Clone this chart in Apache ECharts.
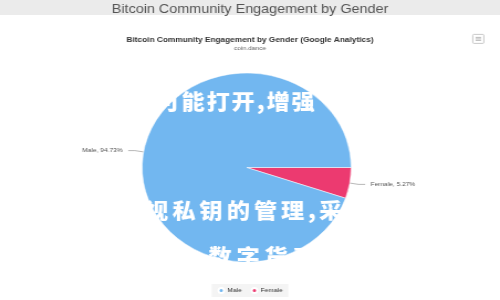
<!DOCTYPE html>
<html>
<head>
<meta charset="utf-8">
<script src="https://cdn.jsdelivr.net/npm/echarts@6/dist/echarts.min.js"></script>
<style>
html,body{margin:0;padding:0;background:#fff;overflow:hidden;width:500px;height:300px;}
#chart{width:452px;height:300px;transform:scaleX(1.1062);transform-origin:0 0;}
</style>
</head>
<body>
<div id="chart"></div>
<script>
var categories = ['Female', 'Male'];
var shares = [5.27, 94.73];
var sliceColors = ['#ec3a70', '#72b7f0'];
var headerText = 'Bitcoin Community Engagement by Gender';
var chartTitle = 'Bitcoin Community Engagement by Gender (Google Analytics)';
var chartSubtitle = 'coin.dance';
var overlayLines = ['可能打开,增强', '重视私钥的管理,采', '数字货币'];

var chart = echarts.init(document.getElementById('chart'), null, {renderer: 'canvas'});
var pieData = categories.map(function (c, i) {
  return {name: c, value: shares[i], itemStyle: {color: sliceColors[i]}};
});

// overlay text layout: first char center x, center y, char step
var overlayLayout = [
  {x: 152, y: 101, step: 22.6},
  {x: 117, y: 210, step: 24.6},
  {x: 199, y: 256, step: 25.3}
];
var overlayGraphics = [];
overlayLines.forEach(function (line, li) {
  var L = overlayLayout[li];
  var x = L.x;
  var chars = line.split('');
  chars.forEach(function (ch, ci) {
    if (ci > 0) {
      x += (ch === ',' || chars[ci - 1] === ',') ? L.step * 0.7 : L.step;
    }
    overlayGraphics.push({
      type: 'text', z: 100, x: x, y: L.y,
      style: {text: ch, fill: '#fff', font: '900 21px "Noto Sans CJK SC"',
              textAlign: 'center', textVerticalAlign: 'middle'}
    });
  });
});

var option = {
  animation: false,
  backgroundColor: '#fff',
  title: [
    {text: headerText, left: 'center', top: -2,
     textStyle: {fontFamily: 'Liberation Sans', fontSize: 13, fontWeight: 'normal', color: '#555'}},
    {text: chartTitle, subtext: chartSubtitle, left: 'center', top: 31, itemGap: 1,
     textStyle: {fontFamily: 'Liberation Sans', fontSize: 7.5, fontWeight: 'bold', color: '#333'},
     subtextStyle: {fontFamily: 'Liberation Sans', fontSize: 6, color: '#666'}}
  ],
  legend: {
    data: ['Male', 'Female'],
    bottom: 3, left: 'center',
    icon: 'circle', itemWidth: 5, itemHeight: 5, itemGap: 8,
    backgroundColor: '#f4f4f4', padding: [3, 5],
    textStyle: {fontFamily: 'Liberation Sans', fontSize: 6, color: '#333', padding: [0, 0, 0, -2]}
  },
  graphic: [
    {type: 'rect', z: -10, shape: {x: 0, y: 0, width: 452, height: 15}, style: {fill: '#ebebeb'}},
    {type: 'group', left: 427, top: 34, children: [
      {type: 'rect', shape: {x: 0, y: 0, width: 10, height: 9, r: 1}, style: {fill: '#fff', stroke: '#bbb', lineWidth: 0.8}},
      {type: 'line', shape: {x1: 2.5, y1: 3, x2: 7.5, y2: 3}, style: {stroke: '#aaa', lineWidth: 0.8}},
      {type: 'line', shape: {x1: 2.5, y1: 4.5, x2: 7.5, y2: 4.5}, style: {stroke: '#aaa', lineWidth: 0.8}},
      {type: 'line', shape: {x1: 2.5, y1: 6, x2: 7.5, y2: 6}, style: {stroke: '#aaa', lineWidth: 0.8}}
    ]}
  ].concat(overlayGraphics),
  series: [{
    type: 'pie',
    center: [223, 167.5],
    radius: 94.5,
    startAngle: 0,
    clockwise: true,
    data: pieData,
    itemStyle: {borderColor: '#fff', borderWidth: 0.5},
    label: {
      show: true, formatter: '{b}, {d}%',
      fontFamily: 'Liberation Sans', fontSize: 6, color: '#555'
    },
    labelLine: {show: true, length: 8, length2: 6, lineStyle: {color: '#999', width: 0.7}},
    emphasis: {disabled: true}
  }]
};
chart.setOption(option);
</script>
</body>
</html>
